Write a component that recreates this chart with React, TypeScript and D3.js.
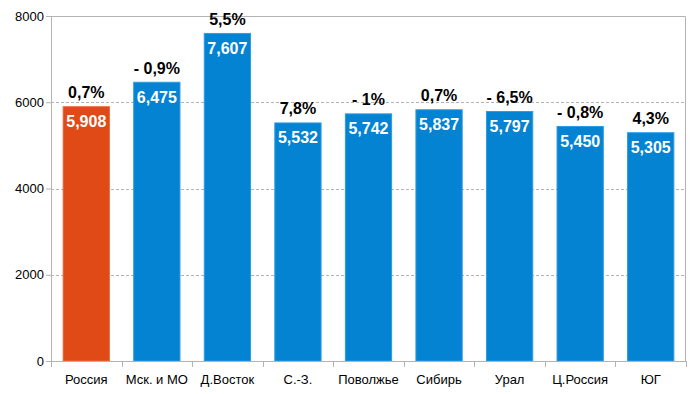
import * as d3 from 'd3';
import { useEffect, useRef } from 'react';

const regions = ["Россия", "Мск. и МО", "Д.Восток", "С.-З.", "Поволжье", "Сибирь", "Урал", "Ц.Россия", "ЮГ"];
const values = [5908, 6475, 7607, 5532, 5742, 5837, 5797, 5450, 5305];
const valueLabels = ["5,908", "6,475", "7,607", "5,532", "5,742", "5,837", "5,797", "5,450", "5,305"];
const changeLabels = ["0,7%", "- 0,9%", "5,5%", "7,8%", "- 1%", "0,7%", "- 6,5%", "- 0,8%", "4,3%"];
const yTicks = [0, 2000, 4000, 6000, 8000];

export default function App() {
    const svgRef = useRef<SVGSVGElement>(null);

    useEffect(() => {
        if (!svgRef.current) return;
        const svg = d3.select(svgRef.current);
        svg.selectAll('*').remove();

        const margin = { top: 16, right: 14, bottom: 33, left: 51 };
        const width = 700 - margin.left - margin.right;
        const height = 394 - margin.top - margin.bottom;

        const g = svg.append("g")
            .attr("transform", `translate(${margin.left}, ${margin.top})`);

        const x = d3.scaleBand()
            .domain(regions)
            .range([0, width])
            .paddingInner(0.33)
            .paddingOuter(0.165);

        const y = d3.scaleLinear()
            .domain([0, 8000])
            .range([height, 0]);

        // dashed grid
        g.selectAll(".grid")
            .data(yTicks.filter(t => t > 0 && t < 8000))
            .enter().append("line")
            .attr("x1", 0).attr("x2", width)
            .attr("y1", d => Math.round(y(d)) + 0.5)
            .attr("y2", d => Math.round(y(d)) + 0.5)
            .attr("stroke", "#b3b3b3")
            .attr("stroke-dasharray", "3,2");

        // frame top & right
        g.append("path")
            .attr("d", `M0,${y(8000) + 0.5}H${width - 0.5}V${height}`)
            .attr("fill", "none")
            .attr("stroke", "#b3b3b3");

        g.selectAll(".bar")
            .data(values)
            .enter().append("rect")
            .attr("x", (d, i) => x(regions[i])! + 0.5)
            .attr("y", d => y(d) + 0.5)
            .attr("width", x.bandwidth() - 1)
            .attr("height", d => height - y(d) - 0.5)
            .attr("fill", (d, i) => i === 0 ? "#e04a16" : "#0483d2")
            .attr("stroke", (d, i) => i === 0 ? "#e8693d" : "#2f9be0")
            .attr("stroke-width", 1);

        const yAxis = g.append("g")
            .call(d3.axisLeft(y).tickValues(yTicks).tickFormat(d3.format("d")).tickSize(5).tickSizeOuter(0));
        yAxis.select(".domain").attr("stroke", "#b3b3b3");
        yAxis.selectAll(".tick line").attr("stroke", "#b3b3b3");
        yAxis.selectAll(".tick text")
            .attr("fill", "#000")
            .attr("font-size", "13px")
            .attr("font-family", "Liberation Sans, Arial, sans-serif")
            .attr("x", -7);

        const step = x.step();
        const boundaries = d3.range(regions.length + 1).map(i => i * step);
        const xAxis = g.append("g")
            .attr("transform", `translate(0, ${height})`);
        xAxis.append("line")
            .attr("x1", 0).attr("x2", width)
            .attr("y1", 0.5).attr("y2", 0.5)
            .attr("stroke", "#b3b3b3");
        xAxis.selectAll(".bt")
            .data(boundaries)
            .enter().append("line")
            .attr("x1", d => Math.round(d) + 0.5).attr("x2", d => Math.round(d) + 0.5)
            .attr("y1", 0).attr("y2", 6)
            .attr("stroke", "#b3b3b3");
        xAxis.selectAll(".lbl")
            .data(regions)
            .enter().append("text")
            .attr("x", d => x(d)! + x.bandwidth() / 2)
            .attr("y", 23)
            .attr("text-anchor", "middle")
            .attr("font-size", "13px")
            .attr("font-family", "Liberation Sans, Arial, sans-serif")
            .attr("fill", "#000")
            .text(d => d);

        g.selectAll(".val")
            .data(values)
            .enter().append("text")
            .attr("x", (d, i) => x(regions[i])! + x.bandwidth() / 2)
            .attr("y", d => y(d) + 21)
            .attr("text-anchor", "middle")
            .attr("font-size", "16px")
            .attr("font-weight", "bold")
            .attr("font-family", "Liberation Sans, Arial, sans-serif")
            .attr("fill", "#fff")
            .text((d, i) => valueLabels[i]);

        g.selectAll(".chg")
            .data(values)
            .enter().append("text")
            .attr("x", (d, i) => x(regions[i])! + x.bandwidth() / 2)
            .attr("y", d => y(d) - 8)
            .attr("text-anchor", "middle")
            .attr("font-size", "16px")
            .attr("font-weight", "bold")
            .attr("font-family", "Liberation Sans, Arial, sans-serif")
            .attr("fill", "#000")
            .text((d, i) => changeLabels[i]);
    }, []);

    return <svg ref={svgRef} width={700} height={394} style={{ position: "absolute", left: 0, top: 0 }}></svg>;
}
